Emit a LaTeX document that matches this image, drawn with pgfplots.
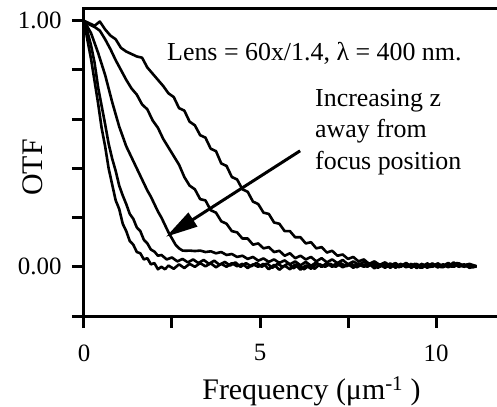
\documentclass[border=0pt]{standalone}
\usepackage{fontspec}
\setmainfont{Liberation Serif}
\usepackage{pgfplots}
\pgfplotsset{compat=1.18}
\usetikzlibrary{arrows.meta}
\tikzset{otf/.style={black, line width=2.6bp, line join=round}}
\begin{document}
\begin{tikzpicture}
\begin{axis}[
  at={(0,0)}, anchor=south west,
  scale only axis,
  width=422.4bp, height=307.5bp,
  xmin=0, xmax=12, ymin=-0.2, ymax=1.05,
  xtick={0,2.5,5,7.5,10,12}, xticklabels={0,,5,,10,},
  ytick={-0.2,0,0.2,0.4,0.6,0.8,1.0}, yticklabels={,0.00,,,,,1.00},
  xtick pos=bottom, ytick pos=left,
  tick align=outside,
  major tick length=12bp,
  every tick/.append style={black, line width=3bp},
  every major tick/.append style={black, line width=3bp},
  xtick style={line width=3bp}, ytick style={line width=3bp},
  axis line style={line width=3bp},
  /pgf/number format/assume math mode=true,
  ticklabel style={font=\fontsize{25}{30}\selectfont},
  xticklabel style={yshift=-13bp},
  yticklabel style={xshift=-7bp},
  xlabel={Frequency (μm\textsuperscript{-1} )},
  ylabel={OTF},
  every axis x label/.style={at={(axis description cs:0.5386,-0.273)}, anchor=base, font=\fontsize{30}{36}\selectfont, inner sep=0pt},
  every axis y label/.style={at={(axis description cs:-0.0971,0.483)}, anchor=base, rotate=90, font=\fontsize{30}{36}\selectfont, inner sep=0pt},
]
% Curve A (widest)
\addplot[otf] coordinates {(0,1.0)(0.15,0.99)(0.3,0.98)(0.45,0.997)(0.6,0.965)(0.75,0.94)(0.9,0.925)(1.05,0.89)(1.2,0.875)(1.35,0.865)(1.5,0.855)(1.65,0.85)(1.8,0.81)(1.95,0.785)(2.1,0.76)(2.25,0.735)(2.4,0.705)(2.55,0.69)(2.7,0.645)(2.85,0.635)(3.0,0.59)(3.15,0.575)(3.3,0.535)(3.45,0.525)(3.6,0.48)(3.75,0.47)(3.9,0.42)(4.05,0.41)(4.2,0.365)(4.35,0.355)(4.5,0.315)(4.65,0.305)(4.8,0.265)(4.95,0.255)(5.1,0.22)(5.25,0.215)(5.4,0.18)(5.55,0.175)(5.7,0.145)(5.85,0.145)(6.0,0.12)(6.15,0.12)(6.3,0.095)(6.45,0.1)(6.6,0.075)(6.75,0.08)(6.9,0.058)(7.05,0.065)(7.2,0.045)(7.35,0.05)(7.5,0.032)(7.65,0.04)(7.8,0.022)(7.95,0.03)(8.1,0.012)(8.25,0.022)(8.4,0.008)(8.55,0.018)(8.7,0.004)(8.85,0.015)(9.0,0.0)(9.15,0.012)(9.3,-0.004)(9.45,0.01)(9.6,0.0)(9.75,0.014)(9.9,0.002)(10.05,0.012)(10.2,-0.002)(10.35,0.01)(10.5,0.0)(10.65,0.014)(10.8,0.004)(10.95,0.012)(11.15,0.002)};
% Curve B
\addplot[otf] coordinates {(0,1.0)(0.15,0.985)(0.3,0.975)(0.45,0.96)(0.6,0.925)(0.75,0.885)(0.9,0.84)(1.05,0.8)(1.2,0.76)(1.35,0.725)(1.5,0.7)(1.65,0.66)(1.8,0.64)(1.95,0.595)(2.1,0.565)(2.25,0.52)(2.4,0.485)(2.55,0.45)(2.7,0.415)(2.85,0.365)(3.0,0.33)(3.15,0.315)(3.3,0.275)(3.45,0.27)(3.6,0.23)(3.75,0.22)(3.9,0.185)(4.05,0.175)(4.2,0.145)(4.35,0.14)(4.5,0.115)(4.65,0.115)(4.8,0.09)(4.95,0.095)(5.1,0.075)(5.25,0.08)(5.4,0.06)(5.55,0.065)(5.7,0.045)(5.85,0.055)(6.0,0.035)(6.15,0.045)(6.3,0.03)(6.45,0.04)(6.6,0.022)(6.75,0.035)(6.9,0.018)(7.05,0.03)(7.2,0.015)(7.35,0.028)(7.5,0.01)(7.65,0.022)(7.8,0.008)(7.95,0.02)(8.1,0.006)(8.25,0.018)(8.4,0.0)(8.55,0.012)(8.7,-0.004)(8.85,0.01)(9.0,0.002)(9.15,0.016)(9.3,0.0)(9.45,0.012)(9.6,-0.004)(9.75,0.008)(9.9,0.0)(10.05,0.014)(10.2,0.002)(10.35,0.016)(10.5,0.0)(10.65,0.01)(10.8,0.0)(10.95,0.008)(11.15,0.0)};
% Curve C
\addplot[otf] coordinates {(0,1.0)(0.1,0.975)(0.2,0.95)(0.3,0.91)(0.4,0.87)(0.5,0.825)(0.6,0.78)(0.7,0.725)(0.8,0.67)(0.9,0.62)(1.0,0.57)(1.1,0.53)(1.2,0.49)(1.3,0.46)(1.4,0.43)(1.5,0.4)(1.6,0.37)(1.7,0.34)(1.8,0.31)(1.9,0.285)(2.0,0.255)(2.1,0.225)(2.2,0.2)(2.3,0.17)(2.4,0.14)(2.5,0.115)(2.6,0.09)(2.7,0.075)(2.8,0.066)(2.9,0.065)(3.0,0.066)(3.15,0.064)(3.3,0.066)(3.45,0.06)(3.6,0.063)(3.75,0.055)(3.9,0.06)(4.05,0.048)(4.2,0.052)(4.35,0.04)(4.5,0.045)(4.65,0.032)(4.8,0.04)(4.95,0.025)(5.1,0.034)(5.25,0.02)(5.4,0.03)(5.55,0.016)(5.7,0.026)(5.85,0.01)(6.0,0.022)(6.15,0.006)(6.3,0.02)(6.45,0.004)(6.6,0.018)(6.75,0.0)(6.9,0.014)(7.05,0.0)(7.2,0.012)(7.35,-0.002)(7.5,0.01)(7.65,0.0)(7.8,0.014)(7.95,0.002)(8.1,0.012)(8.25,0.0)(8.4,0.01)(8.55,-0.004)(8.7,0.008)(8.85,0.0)(9.0,0.012)(9.15,-0.002)(9.3,0.008)(9.45,0.0)(9.6,0.012)(9.75,-0.004)(9.9,0.006)(10.05,0.0)(10.2,0.01)(10.35,-0.002)(10.5,0.012)(10.65,0.0)(10.8,0.008)(10.95,-0.002)(11.15,0.004)};
% Curve D
\addplot[otf] coordinates {(0,1.0)(0.1,0.955)(0.2,0.9)(0.3,0.83)(0.4,0.73)(0.5,0.655)(0.6,0.58)(0.7,0.5)(0.8,0.44)(0.9,0.39)(1.0,0.33)(1.1,0.29)(1.2,0.255)(1.3,0.215)(1.4,0.195)(1.5,0.16)(1.6,0.145)(1.7,0.11)(1.8,0.095)(1.9,0.07)(2.0,0.062)(2.1,0.045)(2.2,0.048)(2.35,0.03)(2.5,0.038)(2.65,0.022)(2.8,0.032)(2.95,0.018)(3.1,0.03)(3.25,0.015)(3.4,0.028)(3.55,0.012)(3.7,0.025)(3.85,0.008)(4.0,0.02)(4.15,0.005)(4.3,0.018)(4.45,0.0)(4.6,0.015)(4.75,0.002)(4.9,0.016)(5.05,0.0)(5.2,0.014)(5.35,-0.004)(5.5,0.012)(5.65,0.0)(5.8,0.014)(5.95,-0.006)(6.1,0.008)(6.25,-0.01)(6.4,0.006)(6.55,-0.008)(6.7,0.01)(6.85,0.0)(7.0,0.012)(7.15,0.0)(7.3,0.014)(7.45,0.002)(7.6,0.012)(7.75,-0.002)(7.9,0.01)(8.05,0.0)(8.2,0.014)(8.35,-0.004)(8.5,0.01)(8.65,0.0)(8.8,0.012)(8.95,-0.002)(9.1,0.01)(9.25,0.0)(9.4,0.012)(9.55,-0.004)(9.7,0.006)(9.85,0.0)(10.0,0.01)(10.15,-0.002)(10.3,0.012)(10.45,0.0)(10.6,0.016)(10.75,0.002)(10.9,0.01)(11.05,-0.002)(11.15,0.002)};
% Curve E (narrowest)
\addplot[otf] coordinates {(0,1.0)(0.1,0.92)(0.2,0.845)(0.3,0.755)(0.4,0.665)(0.5,0.565)(0.6,0.49)(0.7,0.40)(0.8,0.335)(0.9,0.27)(1.0,0.235)(1.1,0.175)(1.2,0.145)(1.3,0.105)(1.4,0.09)(1.5,0.06)(1.6,0.055)(1.7,0.03)(1.8,0.035)(1.9,0.01)(2.0,0.015)(2.1,-0.01)(2.2,0.0)(2.3,-0.01)(2.4,0.005)(2.55,-0.008)(2.7,0.01)(2.85,-0.005)(3.0,0.012)(3.15,0.0)(3.3,0.015)(3.45,0.002)(3.6,0.014)(3.75,-0.002)(3.9,0.012)(4.05,0.0)(4.2,0.015)(4.35,0.002)(4.5,0.012)(4.65,-0.005)(4.8,0.01)(4.95,0.0)(5.1,0.012)(5.25,-0.01)(5.4,0.008)(5.55,-0.012)(5.7,0.005)(5.85,-0.01)(6.0,0.01)(6.15,-0.012)(6.3,0.006)(6.45,-0.008)(6.6,0.012)(6.75,0.0)(6.9,0.015)(7.05,0.003)(7.2,0.016)(7.35,0.0)(7.5,0.012)(7.65,-0.004)(7.8,0.01)(7.95,0.0)(8.1,0.012)(8.25,-0.006)(8.4,0.008)(8.55,0.0)(8.7,0.014)(8.85,-0.004)(9.0,0.01)(9.15,0.0)(9.3,0.012)(9.45,-0.005)(9.6,0.01)(9.75,0.002)(9.9,0.014)(10.05,-0.003)(10.2,0.008)(10.35,0.0)(10.5,0.018)(10.65,0.002)(10.8,0.01)(10.95,-0.004)(11.15,0.003)};
\node[anchor=base west, inner sep=0pt, font=\fontsize{26}{31}\selectfont] at (axis cs:2.358,0.8366) {Lens = 60x/1.4, λ = 400 nm.};
\node[anchor=base west, inner sep=0pt, font=\fontsize{26}{31}\selectfont] at (axis cs:6.5625,0.6496) {Increasing z};
\node[anchor=base west, inner sep=0pt, font=\fontsize{26}{31}\selectfont] at (axis cs:6.5625,0.5236) {away from};
\node[anchor=base west, inner sep=0pt, font=\fontsize{26}{31}\selectfont] at (axis cs:6.5625,0.3935) {focus position};
\draw[line width=3bp, -{Triangle[length=32bp,width=16bp]}] (axis cs:6.14,0.4715) -- (axis cs:2.33,0.122);
\end{axis}
\pgfresetboundingbox
\path (-84bp,-91bp) rectangle (413bp,316bp);
\end{tikzpicture}
\end{document}
